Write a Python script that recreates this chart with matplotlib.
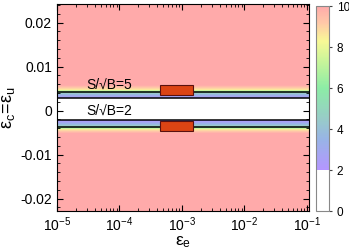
import numpy as np
import matplotlib
matplotlib.use('Agg')
import matplotlib.pyplot as plt
from matplotlib.colors import LinearSegmentedColormap, Normalize
from matplotlib.patches import Rectangle
from matplotlib.ticker import MultipleLocator, LogLocator, NullFormatter

plt.rcParams['font.family'] = ['Liberation Sans', 'DejaVu Sans']
plt.rcParams['mathtext.fontset'] = 'custom'
plt.rcParams['mathtext.rm'] = 'Liberation Sans'
plt.rcParams['mathtext.it'] = 'Liberation Sans'

# S/sqrt(B) profile across eps_c (flat along eps_e)
eps_e_edges = [1e-5, 1.076e-1]
eps_c_profile = [-0.0245, -0.0052, -0.0043, -0.00365, -0.0029, -0.00218,
                 0.0003, 0.0028, 0.0035, 0.00415, 0.0048, 0.0058, 0.0245]
signif_profile = [10, 10, 8.6, 5.0, 3.3, 2.0, 0.0, 2.0, 3.3, 5.0, 8.6, 10, 10]

contour_levels = [2, 5]
label_text = ['S/√B=5', 'S/√B=2']
label_y = [0.0058, -0.0001]

# expected sensitivity boxes (eps_e range, eps_c range)
box_e = [4.5e-4, 1.5e-3]
box_c_upper = [0.00346, 0.00576]
box_c_lower = [-0.00463, -0.00234]

cb_ticks = [0, 2, 4, 6, 8, 10]

cmap = LinearSegmentedColormap.from_list('sig', [
    (0.0, '#ffffff'), (0.199, '#ffffff'), (0.2, '#b496ff'),
    (0.35, '#98b4e6'), (0.45, '#98ccc8'), (0.6, '#8ceca6'),
    (0.73, '#c8f59a'), (0.83, '#f8f896'), (0.92, '#ffc8a8'),
    (1.0, '#ffaaaa')])
norm = Normalize(vmin=0, vmax=10)

X, Y = np.meshgrid(eps_e_edges, eps_c_profile)
Z = np.tile(np.array(signif_profile)[:, None], (1, len(eps_e_edges)))

fig = plt.figure(figsize=(3.49, 2.49), dpi=100)
ax = fig.add_axes([0.163, 0.1526, 0.722, 0.831])
ax.contourf(X, Y, Z, levels=np.linspace(0, 10, 161), cmap=cmap, norm=norm)
ax.contour(X, Y, Z, levels=contour_levels, colors='k', linewidths=1.1)

for yc in (box_c_upper, box_c_lower):
    ax.add_patch(Rectangle((box_e[0], yc[0]), box_e[1] - box_e[0], yc[1] - yc[0],
                           facecolor='#dc4414', edgecolor='#5a1010', lw=0.8, zorder=3))

for txt, yy in zip(label_text, label_y):
    ax.text(3.0e-5, yy, txt, fontsize=10, va='center', ha='left', zorder=4)

ax.set_xscale('log')
ax.set_xlim(1e-5, 1.076e-1)
ax.set_ylim(-0.0228, 0.0242)
ax.xaxis.set_major_locator(LogLocator(base=10, numticks=10))
ax.xaxis.set_minor_locator(LogLocator(base=10, subs=np.arange(2, 10), numticks=10))
ax.xaxis.set_minor_formatter(NullFormatter())
ax.yaxis.set_minor_locator(MultipleLocator(0.002))
ax.set_yticks([-0.02, -0.01, 0, 0.01, 0.02])
ax.set_yticklabels(['-0.02', '-0.01', '0', '0.01', '0.02'])
ax.tick_params(which='both', direction='in', top=True, right=True, labelsize=10)
ax.tick_params(which='major', length=4)
ax.tick_params(which='minor', length=2)
ax.set_xlabel(r'$\mathregular{\varepsilon_e}$', fontsize=12.5, labelpad=0)
ax.set_ylabel(r'$\mathregular{\varepsilon_c\!=\!\varepsilon_u}$', fontsize=13, labelpad=2)

cax = fig.add_axes([0.906, 0.1526, 0.037, 0.823])
sm = plt.cm.ScalarMappable(norm=norm, cmap=cmap)
cb = fig.colorbar(sm, cax=cax, ticks=cb_ticks)
cb.outline.set_edgecolor('#888888')
cb.ax.tick_params(labelsize=8.5, length=2, direction='out', color='#444444')

fig.savefig('out.png', dpi=100)
